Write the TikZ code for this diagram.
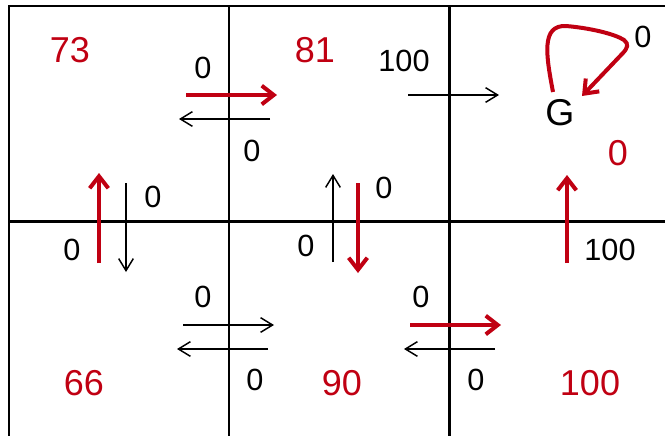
\documentclass[tikz,border=0pt]{standalone}
\usepackage{fontspec}
\setmainfont{Liberation Sans}
\usetikzlibrary{arrows.meta}
\definecolor{dred}{RGB}{192,0,18}
\tikzset{
  gridline/.style={line width=1.9pt, black},
  blk/.style={line width=1.1pt, black, -{Straight Barb[length=9pt,width=11pt]}},
  redarr/.style={line width=3pt, dred, -{Straight Barb[length=9pt,width=14pt]}},
  val/.style={text=dred, inner sep=0pt, font=\fontsize{27}{30}\selectfont},
  rew/.style={text=black, inner sep=0pt, font=\fontsize{23}{26}\selectfont},
}
\begin{document}
\begin{tikzpicture}[x=0.75pt,y=-0.75pt]
\useasboundingbox (0,0) rectangle (665,436);
\clip (0,0) rectangle (665,436);
% grid
\draw[gridline] (9,500) -- (9,6) -- (700,6);
\draw[gridline] (229,6) -- (229,500);
\draw[gridline] (449.5,6) -- (449.5,500);
\draw[gridline] (9,221.5) -- (700,221.5);
% state values
\node[val] (v73) at (70,50) {73};
\node[val] (v81) at (315,50) {81};
\node[val] (v0) at (618,153) {0};
\node[val] (v66) at (84,383) {66};
\node[val] (v90) at (342,383) {90};
\node[val] (v100) at (590,383) {100};
\node[inner sep=0pt, font=\fontsize{28}{30}\selectfont] (G) at (560,113) {G};
% reward labels
\node[rew] (r1) at (203,68) {0};
\node[rew] (r2) at (252,151) {0};
\node[rew] (r3) at (404,61) {100};
\node[rew] (r4) at (643,37) {0};
\node[rew] (r5) at (153,197) {0};
\node[rew] (r6) at (72,250) {0};
\node[rew] (r7) at (384,188) {0};
\node[rew] (r8) at (306,246) {0};
\node[rew] (r9) at (610,250) {100};
\node[rew] (r10) at (203,297) {0};
\node[rew] (r11) at (255,380) {0};
\node[rew] (r12) at (421,297) {0};
\node[rew] (r13) at (476,380) {0};
% arrow end points
\coordinate (a1s) at (186,95);  \coordinate (a1e) at (277,95);
\coordinate (a2s) at (270,119); \coordinate (a2e) at (179,119);
\coordinate (a3s) at (408,95);  \coordinate (a3e) at (499,95);
\coordinate (b1s) at (99,263);  \coordinate (b1e) at (99,173);
\coordinate (b2s) at (126,183); \coordinate (b2e) at (126,272);
\coordinate (b3s) at (333,262); \coordinate (b3e) at (333,174);
\coordinate (b4s) at (358,183); \coordinate (b4e) at (358,273);
\coordinate (b5s) at (567,263); \coordinate (b5e) at (567,175);
\coordinate (c1s) at (183,325); \coordinate (c1e) at (274,325);
\coordinate (c2s) at (268,349); \coordinate (c2e) at (177,349);
\coordinate (c3s) at (410,325); \coordinate (c3e) at (501,325);
\coordinate (c4s) at (495,349); \coordinate (c4e) at (404,349);
% arrows
\draw[redarr] (a1s) -- (a1e);
\draw[blk] (a2s) -- (a2e);
\draw[blk] (a3s) -- (a3e);
\draw[redarr] (b1s) -- (b1e);
\draw[blk] (b2s) -- (b2e);
\draw[blk] (b3s) -- (b3e);
\draw[redarr] (b4s) -- (b4e);
\draw[redarr] (b5s) -- (b5e);
\draw[blk] (c1s) -- (c1e);
\draw[blk] (c2s) -- (c2e);
\draw[redarr] (c3s) -- (c3e);
\draw[blk] (c4s) -- (c4e);
% self loop at G
\coordinate (ls) at (553,92);
\coordinate (le) at (582,96);
\draw[redarr] (ls) .. controls (546,55) and (541,25) .. (566,26)
  .. controls (590,28) and (615,34) .. (624,40)
  .. controls (629,44) and (628,48) .. (622,54) -- (le);
\end{tikzpicture}
\end{document}
